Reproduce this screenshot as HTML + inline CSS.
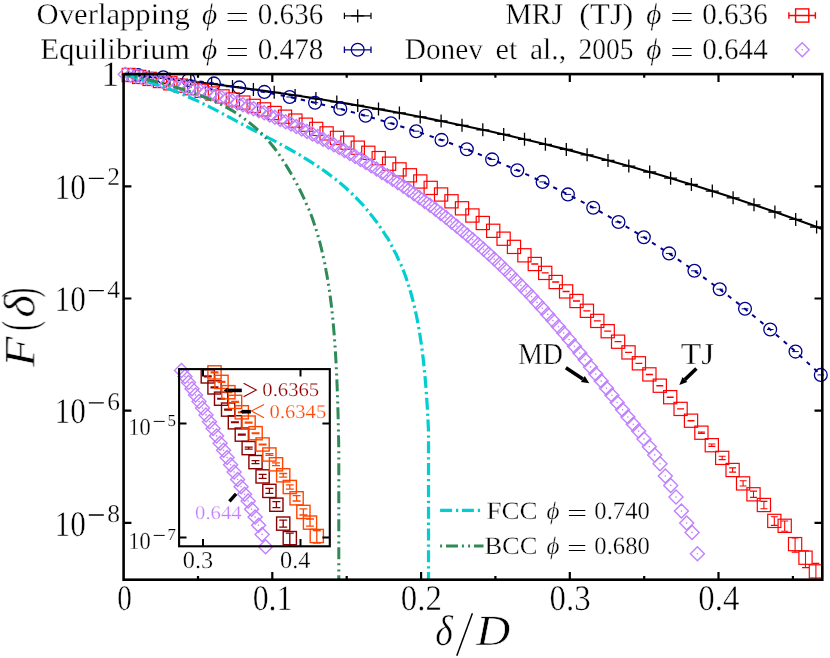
<!DOCTYPE html>
<html><head><meta charset="utf-8"><title>F(delta)</title>
<style>html,body{margin:0;padding:0;background:#fff}svg{display:block}</style></head>
<body><svg width="830" height="658" viewBox="0 0 830 658">
<defs>
<clipPath id="cm"><rect x="123.6" y="74.1" width="698.7" height="505.6"/></clipPath>
<clipPath id="ci"><rect x="179.1" y="369.1" width="150.7" height="177.2"/></clipPath>
<path id="pl" d="M-6.5,0H6.5M0,-6.5V6.5" stroke="#000" stroke-width="1.3" fill="none"/>
<g id="ci0"><circle r="6.4" fill="none" stroke-width="1.3"/><path d="M-3.3,0H3.3" stroke-width="1"/></g>
<rect id="sq" x="-6.6" y="-6.6" width="13.2" height="13.2" fill="none"/>
<g id="dm"><path d="M-7.0,0L0,-7.0L7.0,0L0,7.0Z" fill="none" stroke="#c080ff" stroke-width="1.4"/><circle r="0.8" fill="#c080ff"/></g>
</defs>
<rect x="0" y="0" width="830" height="658" fill="#fff"/>
<g clip-path="url(#cm)">
<path d="M123.60,74.10 135.45,75.30 147.30,76.53 159.14,77.80 170.99,79.11 182.84,80.47 194.69,81.86 206.54,83.29 218.38,84.77 230.23,86.28 242.08,87.84 253.93,89.45 265.78,91.09 277.62,92.79 289.47,94.52 301.32,96.31 313.17,98.14 325.02,100.01 336.86,101.94 348.71,103.91 360.56,105.93 372.41,108.00 384.26,110.13 396.10,112.30 407.95,114.52 419.80,116.80 431.65,119.12 443.50,121.50 455.34,123.94 467.19,126.43 479.04,128.97 490.89,131.57 502.74,134.22 514.58,136.93 526.43,139.70 538.28,142.53 550.13,145.41 561.98,148.36 573.82,151.36 585.67,154.42 597.52,157.55 609.37,160.73 621.22,163.98 633.06,167.29 644.91,170.66 656.76,174.10 668.61,177.60 680.46,181.17 692.30,184.80 704.15,188.50 716.00,192.26 727.85,196.10 739.70,200.00 751.54,203.97 763.39,208.00 775.24,212.11 787.09,216.29 798.94,220.54 810.78,224.86 822.63,229.25" stroke="#000" stroke-width="2.1" fill="none"/>
</g>
<use href="#pl" x="128.2" y="74.6"/>
<use href="#pl" x="149.1" y="76.7"/>
<use href="#pl" x="169.9" y="79"/>
<use href="#pl" x="190.8" y="81.4"/>
<use href="#pl" x="211.6" y="83.9"/>
<use href="#pl" x="232.5" y="86.6"/>
<use href="#pl" x="253.4" y="89.4"/>
<use href="#pl" x="274.2" y="92.3"/>
<use href="#pl" x="295.1" y="95.4"/>
<use href="#pl" x="315.9" y="98.6"/>
<use href="#pl" x="336.8" y="101.9"/>
<use href="#pl" x="357.7" y="105.4"/>
<use href="#pl" x="378.5" y="109.1"/>
<use href="#pl" x="399.4" y="112.9"/>
<use href="#pl" x="420.2" y="116.9"/>
<use href="#pl" x="441.1" y="121"/>
<use href="#pl" x="462" y="125.3"/>
<use href="#pl" x="482.8" y="129.8"/>
<use href="#pl" x="503.7" y="134.4"/>
<use href="#pl" x="524.5" y="139.3"/>
<use href="#pl" x="545.4" y="144.3"/>
<use href="#pl" x="566.3" y="149.4"/>
<use href="#pl" x="587.1" y="154.8"/>
<use href="#pl" x="608" y="160.4"/>
<use href="#pl" x="628.8" y="166.1"/>
<use href="#pl" x="649.7" y="172"/>
<use href="#pl" x="670.6" y="178.2"/>
<use href="#pl" x="691.4" y="184.5"/>
<use href="#pl" x="712.3" y="191.1"/>
<use href="#pl" x="733.1" y="197.8"/>
<use href="#pl" x="754" y="204.8"/>
<use href="#pl" x="774.9" y="212"/>
<use href="#pl" x="795.7" y="219.4"/>
<use href="#pl" x="816.6" y="227"/>
<g clip-path="url(#cm)">
<path d="M138.00,75.04 163.29,77.22 188.58,80.01 213.87,83.41 239.16,87.39 264.45,91.93 289.74,97.04 315.03,102.71 340.32,108.95 365.61,115.77 390.90,123.20 416.19,131.25 441.48,139.95 466.77,149.33 492.06,159.42 517.35,170.26 542.64,181.90 567.93,194.36 593.22,207.70 618.51,221.97 643.80,237.20 669.09,253.45 694.38,270.76 719.67,289.18 744.96,308.76 770.25,329.54 795.54,351.57 820.83,374.88" stroke="#00008b" stroke-width="2" stroke-dasharray="4.3 6" fill="none"/>
</g>
<g stroke="#00008b">
<use href="#ci0" x="138" y="75"/>
<use href="#ci0" x="163.3" y="77.2"/>
<use href="#ci0" x="188.6" y="80"/>
<use href="#ci0" x="213.9" y="83.4"/>
<use href="#ci0" x="239.2" y="87.4"/>
<use href="#ci0" x="264.4" y="91.9"/>
<use href="#ci0" x="289.7" y="97"/>
<use href="#ci0" x="315" y="102.7"/>
<use href="#ci0" x="340.3" y="108.9"/>
<use href="#ci0" x="365.6" y="115.8"/>
<use href="#ci0" x="390.9" y="123.2"/>
<use href="#ci0" x="416.2" y="131.2"/>
<use href="#ci0" x="441.5" y="139.9"/>
<use href="#ci0" x="466.8" y="149.3"/>
<use href="#ci0" x="492.1" y="159.4"/>
<use href="#ci0" x="517.3" y="170.3"/>
<use href="#ci0" x="542.6" y="181.9"/>
<use href="#ci0" x="567.9" y="194.4"/>
<use href="#ci0" x="593.2" y="207.7"/>
<use href="#ci0" x="618.5" y="222"/>
<use href="#ci0" x="643.8" y="237.2"/>
<use href="#ci0" x="669.1" y="253.4"/>
<use href="#ci0" x="694.4" y="270.8"/>
<use href="#ci0" x="719.7" y="289.2"/>
<use href="#ci0" x="745" y="308.8"/>
<use href="#ci0" x="770.2" y="329.5"/>
<use href="#ci0" x="795.5" y="351.6"/>
<use href="#ci0" x="820.8" y="374.9"/>
</g>
<g stroke="#ff0000" stroke-width="1.2">
<use href="#sq" x="128.8" y="75"/>
<use href="#sq" x="139.2" y="76.9"/>
<use href="#sq" x="149.6" y="78.9"/>
<use href="#sq" x="160" y="81"/>
<use href="#sq" x="170.4" y="83.3"/>
<use href="#sq" x="180.9" y="85.7"/>
<use href="#sq" x="191.3" y="88.2"/>
<use href="#sq" x="201.7" y="90.8"/>
<use href="#sq" x="212.1" y="93.5"/>
<use href="#sq" x="222.5" y="96.4"/>
<use href="#sq" x="232.9" y="99.5"/>
<use href="#sq" x="243.3" y="102.6"/>
<use href="#sq" x="253.7" y="105.9"/>
<use href="#sq" x="264.1" y="109.4"/>
<use href="#sq" x="274.6" y="113"/>
<use href="#sq" x="285" y="116.7"/>
<use href="#sq" x="295.4" y="120.6"/>
<use href="#sq" x="305.8" y="124.7"/>
<use href="#sq" x="316.2" y="128.9"/>
<use href="#sq" x="326.6" y="133.4"/>
<use href="#sq" x="337" y="137.9"/>
<use href="#sq" x="347.4" y="142.7"/>
<use href="#sq" x="357.8" y="147.7"/>
<use href="#sq" x="368.3" y="152.8"/>
<use href="#sq" x="378.7" y="158.1"/>
<use href="#sq" x="389.1" y="163.7"/>
<use href="#sq" x="399.5" y="169.4"/>
<use href="#sq" x="409.9" y="175.3"/>
<use href="#sq" x="420.3" y="181.5"/>
<use href="#sq" x="430.7" y="187.9"/>
<use href="#sq" x="441.1" y="194.5"/>
<use href="#sq" x="451.5" y="201.3"/>
<use href="#sq" x="462" y="208.3"/>
<use href="#sq" x="472.4" y="215.5"/>
<use href="#sq" x="482.8" y="223"/>
<use href="#sq" x="493.2" y="230.8"/>
<use href="#sq" x="503.6" y="238.7"/>
<use href="#sq" x="514" y="246.9"/>
<use href="#sq" x="524.4" y="255.3"/>
<use href="#sq" x="534.8" y="264"/>
<use href="#sq" x="545.2" y="272.9"/>
<use href="#sq" x="555.7" y="282"/>
<use href="#sq" x="566.1" y="291.4"/>
<use href="#sq" x="576.5" y="301"/>
<use href="#sq" x="586.9" y="310.8"/>
<use href="#sq" x="597.3" y="320.9"/>
<use href="#sq" x="607.7" y="331.2"/>
<use href="#sq" x="618.1" y="341.7"/>
<use href="#sq" x="628.5" y="352.4"/>
<use href="#sq" x="638.9" y="363.3"/>
<use href="#sq" x="649.4" y="374.4"/>
<use href="#sq" x="659.8" y="385.7"/>
<use href="#sq" x="670.2" y="397.2"/>
<use href="#sq" x="680.6" y="408.9"/>
<use href="#sq" x="691" y="420.7"/>
<use href="#sq" x="701.4" y="432.7"/>
<use href="#sq" x="711.8" y="445.2"/>
<use href="#sq" x="722.2" y="457.9"/>
<use href="#sq" x="732.6" y="470"/>
<use href="#sq" x="743.1" y="483.4"/>
<use href="#sq" x="753.5" y="494.3"/>
<use href="#sq" x="763.9" y="505"/>
<use href="#sq" x="774.3" y="520.9"/>
<use href="#sq" x="784.7" y="525.8"/>
<use href="#sq" x="795.1" y="544.1"/>
<use href="#sq" x="805.5" y="557.7"/>
<use href="#sq" x="815.9" y="571.4"/>
</g>
<g clip-path="url(#cm)"><path d="M531.3,263.8H538.3M531.3,264.1H538.3" stroke="#ff0000" stroke-width="1.1" fill="none"/><path d="M541.7,272.7H548.7M541.7,273H548.7" stroke="#ff0000" stroke-width="1.1" fill="none"/><path d="M552.2,281.9H559.2M552.2,282.2H559.2" stroke="#ff0000" stroke-width="1.1" fill="none"/><path d="M562.6,291.3H569.6M562.6,291.6H569.6" stroke="#ff0000" stroke-width="1.1" fill="none"/><path d="M573,300.9H580M573,301.2H580" stroke="#ff0000" stroke-width="1.1" fill="none"/><path d="M583.4,310.7H590.4M583.4,311H590.4" stroke="#ff0000" stroke-width="1.1" fill="none"/><path d="M593.8,320.7H600.8M593.8,321H600.8" stroke="#ff0000" stroke-width="1.1" fill="none"/><path d="M604.2,331H611.2M604.2,331.3H611.2" stroke="#ff0000" stroke-width="1.1" fill="none"/><path d="M614.6,341.5H621.6M614.6,341.8H621.6" stroke="#ff0000" stroke-width="1.1" fill="none"/><path d="M625,352.2H632M625,352.5H632" stroke="#ff0000" stroke-width="1.1" fill="none"/><path d="M635.4,363.2H642.4M635.4,363.5H642.4" stroke="#ff0000" stroke-width="1.1" fill="none"/><path d="M645.9,374.3H652.9M645.9,374.6H652.9" stroke="#ff0000" stroke-width="1.1" fill="none"/><path d="M656.3,385.6H663.3M656.3,385.9H663.3" stroke="#ff0000" stroke-width="1.1" fill="none"/><path d="M666.7,397.1H673.7M666.7,397.4H673.7" stroke="#ff0000" stroke-width="1.1" fill="none"/><path d="M677.1,408.7H684.1M677.1,409H684.1" stroke="#ff0000" stroke-width="1.1" fill="none"/><path d="M687.5,420.5H694.5M687.5,420.9H694.5" stroke="#ff0000" stroke-width="1.1" fill="none"/><path d="M697.9,432H704.9M697.9,433.4H704.9M701.4,432V433.4" stroke="#ff0000" stroke-width="1.1" fill="none"/><path d="M708.3,444H715.3M708.3,446.4H715.3M711.8,444V446.4" stroke="#ff0000" stroke-width="1.1" fill="none"/><path d="M718.7,456.3H725.7M718.7,459.6H725.7M722.2,456.3V459.6" stroke="#ff0000" stroke-width="1.1" fill="none"/><path d="M729.1,467.9H736.1M729.1,472.1H736.1M732.6,467.9V472.1" stroke="#ff0000" stroke-width="1.1" fill="none"/><path d="M739.6,480.8H746.6M739.6,486H746.6M743.1,480.8V486" stroke="#ff0000" stroke-width="1.1" fill="none"/><path d="M750,491.1H757M750,497.4H757M753.5,491.1V497.4" stroke="#ff0000" stroke-width="1.1" fill="none"/><path d="M760.4,501.4H767.4M760.4,508.8H767.4M763.9,501.4V508.8" stroke="#ff0000" stroke-width="1.1" fill="none"/><path d="M770.8,516.7H777.8M770.8,525.4H777.8M774.3,516.7V525.4" stroke="#ff0000" stroke-width="1.1" fill="none"/><path d="M781.2,521H788.2M781.2,531.2H788.2M784.7,521V531.2" stroke="#ff0000" stroke-width="1.1" fill="none"/><path d="M791.6,538H798.6M791.6,552.1H798.6M795.1,538V552.1" stroke="#ff0000" stroke-width="1.1" fill="none"/><path d="M802,550.7H809M802,567.6H809M805.5,550.7V567.6" stroke="#ff0000" stroke-width="1.1" fill="none"/><path d="M812.4,563.4H819.4M812.4,611.2H819.4M815.9,563.4V611.2" stroke="#ff0000" stroke-width="1.1" fill="none"/></g>
<use href="#dm" x="125.2" y="74.3"/>
<use href="#dm" x="130.5" y="75.2"/>
<use href="#dm" x="135.9" y="76.1"/>
<use href="#dm" x="141.2" y="77.1"/>
<use href="#dm" x="146.6" y="78.1"/>
<use href="#dm" x="151.9" y="79.1"/>
<use href="#dm" x="157.3" y="80.2"/>
<use href="#dm" x="162.6" y="81.4"/>
<use href="#dm" x="168" y="82.6"/>
<use href="#dm" x="173.3" y="83.9"/>
<use href="#dm" x="178.7" y="85.2"/>
<use href="#dm" x="184" y="86.5"/>
<use href="#dm" x="189.4" y="88"/>
<use href="#dm" x="194.7" y="89.4"/>
<use href="#dm" x="200.1" y="90.9"/>
<use href="#dm" x="205.4" y="92.5"/>
<use href="#dm" x="210.8" y="94.1"/>
<use href="#dm" x="216.1" y="95.8"/>
<use href="#dm" x="221.5" y="97.5"/>
<use href="#dm" x="226.8" y="99.2"/>
<use href="#dm" x="232.2" y="101"/>
<use href="#dm" x="237.5" y="102.9"/>
<use href="#dm" x="242.9" y="104.8"/>
<use href="#dm" x="248.2" y="106.7"/>
<use href="#dm" x="253.6" y="108.7"/>
<use href="#dm" x="258.9" y="110.7"/>
<use href="#dm" x="264.2" y="112.8"/>
<use href="#dm" x="269.6" y="115"/>
<use href="#dm" x="274.9" y="117.2"/>
<use href="#dm" x="280.3" y="119.4"/>
<use href="#dm" x="285.6" y="121.7"/>
<use href="#dm" x="291" y="124.1"/>
<use href="#dm" x="296.3" y="126.5"/>
<use href="#dm" x="301.7" y="128.9"/>
<use href="#dm" x="307" y="131.4"/>
<use href="#dm" x="312.4" y="134"/>
<use href="#dm" x="317.7" y="136.6"/>
<use href="#dm" x="323.1" y="139.2"/>
<use href="#dm" x="328.4" y="142"/>
<use href="#dm" x="333.8" y="144.7"/>
<use href="#dm" x="339.1" y="147.6"/>
<use href="#dm" x="344.5" y="150.5"/>
<use href="#dm" x="349.8" y="153.4"/>
<use href="#dm" x="355.2" y="156.4"/>
<use href="#dm" x="360.5" y="159.5"/>
<use href="#dm" x="365.9" y="162.6"/>
<use href="#dm" x="371.2" y="165.8"/>
<use href="#dm" x="376.6" y="169.1"/>
<use href="#dm" x="381.9" y="172.4"/>
<use href="#dm" x="387.3" y="175.8"/>
<use href="#dm" x="392.6" y="179.2"/>
<use href="#dm" x="397.9" y="182.7"/>
<use href="#dm" x="403.3" y="186.3"/>
<use href="#dm" x="408.6" y="190"/>
<use href="#dm" x="414" y="193.7"/>
<use href="#dm" x="419.3" y="197.5"/>
<use href="#dm" x="424.7" y="201.4"/>
<use href="#dm" x="430" y="205.3"/>
<use href="#dm" x="435.4" y="209.3"/>
<use href="#dm" x="440.7" y="213.4"/>
<use href="#dm" x="446.1" y="217.6"/>
<use href="#dm" x="451.4" y="221.9"/>
<use href="#dm" x="456.8" y="226.2"/>
<use href="#dm" x="462.1" y="230.7"/>
<use href="#dm" x="467.5" y="235.2"/>
<use href="#dm" x="472.8" y="239.8"/>
<use href="#dm" x="478.2" y="244.5"/>
<use href="#dm" x="483.5" y="249.2"/>
<use href="#dm" x="488.9" y="254.1"/>
<use href="#dm" x="494.2" y="259.1"/>
<use href="#dm" x="499.6" y="264.1"/>
<use href="#dm" x="504.9" y="269.3"/>
<use href="#dm" x="510.3" y="274.6"/>
<use href="#dm" x="515.6" y="279.9"/>
<use href="#dm" x="521" y="285.4"/>
<use href="#dm" x="526.3" y="291"/>
<use href="#dm" x="531.6" y="296.6"/>
<use href="#dm" x="537" y="302.4"/>
<use href="#dm" x="542.3" y="308.3"/>
<use href="#dm" x="547.7" y="314.4"/>
<use href="#dm" x="553" y="320.5"/>
<use href="#dm" x="558.4" y="326.8"/>
<use href="#dm" x="563.7" y="333.1"/>
<use href="#dm" x="569.1" y="339.5"/>
<use href="#dm" x="574.4" y="346.2"/>
<use href="#dm" x="579.8" y="353"/>
<use href="#dm" x="585.1" y="359.7"/>
<use href="#dm" x="590.5" y="366.9"/>
<use href="#dm" x="595.8" y="374.1"/>
<use href="#dm" x="601.2" y="381.1"/>
<use href="#dm" x="606.5" y="388.3"/>
<use href="#dm" x="611.9" y="395.3"/>
<use href="#dm" x="617.2" y="402.5"/>
<use href="#dm" x="622.6" y="409.8"/>
<use href="#dm" x="627.9" y="417"/>
<use href="#dm" x="633.3" y="424.2"/>
<use href="#dm" x="638.6" y="431.1"/>
<use href="#dm" x="644" y="439"/>
<use href="#dm" x="649.3" y="446.8"/>
<use href="#dm" x="654.7" y="454.9"/>
<use href="#dm" x="660" y="463.8"/>
<use href="#dm" x="665.3" y="476"/>
<use href="#dm" x="670.7" y="485.4"/>
<use href="#dm" x="676" y="497"/>
<use href="#dm" x="681.4" y="511.1"/>
<use href="#dm" x="686.7" y="523.1"/>
<use href="#dm" x="692.1" y="532.4"/>
<use href="#dm" x="697.4" y="553.7"/>
<g clip-path="url(#cm)">
<path d="M123.60,74.10 129.92,75.90 136.24,77.78 142.56,79.75 148.87,81.80 155.19,83.92 161.51,86.14 167.83,88.46 174.15,90.90 180.47,93.45 186.79,96.12 193.10,98.92 199.42,101.83 205.74,104.91 212.06,108.07 218.38,111.40 224.70,114.79 231.02,118.18 237.33,121.62 243.65,124.98 249.97,128.24 256.29,131.51 262.61,134.77 268.93,138.08 275.25,141.36 281.56,144.74 287.88,148.27 294.20,151.78 300.52,155.48 306.84,159.38 313.16,163.44 319.48,167.59 325.79,171.91 332.11,176.60 338.43,181.57 344.75,186.92 351.07,192.89 357.39,199.04 363.71,205.74 370.02,213.48 370.80,214.48 371.58,215.48 372.36,216.35 373.14,217.40 373.92,218.39 374.70,219.42 375.48,220.49 376.26,221.48 377.04,222.54 377.82,223.59 378.60,224.56 379.38,225.86 380.16,227.01 380.94,228.27 381.72,229.36 382.50,230.37 383.28,231.58 384.06,232.82 384.84,234.00 385.62,235.39 386.40,236.56 387.18,237.48 387.96,238.66 388.74,240.02 389.52,241.67 390.30,243.30 391.08,244.55 391.86,246.08 392.64,247.78 393.42,249.04 394.20,250.69 394.98,252.15 395.76,253.45 396.54,255.01 397.32,257.06 398.10,258.56 398.88,260.41 399.66,262.14 400.44,263.77 401.22,265.17 402.00,266.83 402.78,268.90 403.56,271.01 404.16,272.51 405.26,275.51 406.32,278.51 407.34,281.51 408.32,284.51 409.25,287.51 410.15,290.51 411.02,293.51 411.85,296.51 412.64,299.51 413.41,302.51 414.14,305.51 414.84,308.51 415.52,311.51 416.17,314.51 416.79,317.51 417.38,320.51 417.96,323.51 418.51,326.51 419.03,329.51 419.54,332.51 420.03,335.51 420.49,338.51 420.94,341.51 421.37,344.51 421.78,347.51 422.18,350.51 422.56,353.51 422.92,356.51 423.27,359.51 423.61,362.51 423.93,365.51 424.24,368.51 424.54,371.51 424.82,374.51 425.10,377.51 425.36,380.51 425.61,383.51 425.86,386.51 426.09,389.51 426.31,392.51 426.52,395.51 426.73,398.51 426.93,401.51 427.12,404.51 427.30,407.51 427.47,410.51 427.64,413.51 427.80,416.51 427.95,419.51 428.10,422.51 428.24,425.51 428.38,428.51 428.50,431.51 428.50,434.51 428.50,437.51 428.50,440.51 428.50,443.51 428.50,446.51 428.50,449.51 428.50,452.51 428.50,455.51 428.50,458.51 428.50,461.51 428.50,464.51 428.50,467.51 428.50,470.51 428.50,473.51 428.50,476.51 428.50,479.51 428.50,482.51 428.50,485.51 428.50,488.51 428.50,491.51 428.50,494.51 428.50,497.51 428.50,500.51 428.50,503.51 428.50,506.51 428.50,509.51 428.50,512.51 428.50,515.51 428.50,518.51 428.50,521.51 428.50,524.51 428.50,527.51 428.50,530.51 428.50,533.51 428.50,536.51 428.50,539.51 428.50,542.51 428.50,545.51 428.50,548.51 428.50,551.51 428.50,554.51 428.50,557.51 428.50,560.51 428.50,563.51 428.50,566.51 428.50,569.51 428.50,572.51 428.50,575.51 428.50,578.51 428.50,581.51 428.50,584.51" stroke="#00ced1" stroke-width="3.2" stroke-dasharray="12 3.9 2.3 3.6" stroke-dashoffset="18.8" fill="none"/>
<path d="M123.60,74.10 128.04,75.04 132.48,76.01 136.92,77.00 141.36,78.03 145.79,79.09 150.23,80.18 154.67,81.29 159.11,82.45 163.55,83.65 167.99,84.88 172.43,86.16 176.87,87.49 181.31,88.86 185.75,90.30 190.18,91.79 194.62,93.36 199.06,94.98 203.50,96.70 207.94,98.51 212.38,100.42 216.82,102.41 221.26,104.58 225.70,106.88 230.13,109.35 234.57,112.01 239.01,114.94 243.45,118.05 247.89,121.43 252.33,125.03 256.77,128.92 261.21,133.13 265.65,137.75 270.08,142.78 274.52,148.26 278.96,154.33 283.40,160.98 287.84,168.16 292.28,175.67 296.72,183.70 297.27,184.75 297.81,185.77 298.36,186.83 298.91,187.91 299.46,188.99 300.01,190.10 300.55,191.27 301.10,192.37 301.65,193.47 302.20,194.67 302.74,195.82 303.29,196.95 303.84,198.14 304.39,199.31 304.94,200.56 305.48,201.91 306.03,203.21 306.58,204.39 307.13,205.63 307.68,206.72 308.22,208.06 308.77,209.20 309.32,210.52 309.87,211.84 310.41,213.23 310.96,214.49 311.51,216.03 312.06,217.50 312.61,219.08 313.15,220.74 313.70,222.36 314.25,223.91 314.80,225.58 315.35,227.12 315.89,228.81 316.44,230.54 316.99,232.40 317.54,234.04 318.08,236.26 318.63,238.25 319.18,240.11 319.73,242.12 320.28,243.97 320.82,246.40 321.37,248.70 321.92,250.87 322.47,253.24 323.01,255.54 323.56,258.23 324.11,260.32 324.66,262.95 325.21,265.96 325.75,268.77 325.98,270.27 326.55,273.27 327.09,276.27 327.61,279.27 328.11,282.27 328.58,285.27 329.04,288.27 329.48,291.27 329.91,294.27 330.31,297.27 330.70,300.27 331.08,303.27 331.43,306.27 331.78,309.27 332.11,312.27 332.43,315.27 332.73,318.27 333.02,321.27 333.30,324.27 333.57,327.27 333.83,330.27 334.08,333.27 334.32,336.27 334.55,339.27 334.77,342.27 334.98,345.27 335.18,348.27 335.37,351.27 335.56,354.27 335.74,357.27 335.91,360.27 336.07,363.27 336.23,366.27 336.38,369.27 336.53,372.27 336.67,375.27 336.80,378.27 336.93,381.27 337.05,384.27 337.17,387.27 337.28,390.27 337.39,393.27 337.50,396.27 337.60,399.27 337.70,402.27 337.79,405.27 337.88,408.27 337.96,411.27 338.04,414.27 338.12,417.27 338.20,420.27 338.27,423.27 338.34,426.27 338.41,429.27 338.47,432.27 338.53,435.27 338.59,438.27 338.65,441.27 338.70,444.27 338.75,447.27 338.80,450.27 338.80,453.27 338.80,456.27 338.80,459.27 338.80,462.27 338.80,465.27 338.80,468.27 338.80,471.27 338.80,474.27 338.80,477.27 338.80,480.27 338.80,483.27 338.80,486.27 338.80,489.27 338.80,492.27 338.80,495.27 338.80,498.27 338.80,501.27 338.80,504.27 338.80,507.27 338.80,510.27 338.80,513.27 338.80,516.27 338.80,519.27 338.80,522.27 338.80,525.27 338.80,528.27 338.80,531.27 338.80,534.27 338.80,537.27 338.80,540.27 338.80,543.27 338.80,546.27 338.80,549.27 338.80,552.27 338.80,555.27 338.80,558.27 338.80,561.27 338.80,564.27 338.80,567.27 338.80,570.27 338.80,573.27 338.80,576.27 338.80,579.27 338.80,582.27 338.80,585.27" stroke="#2e8b57" stroke-width="3" stroke-dasharray="12 3.9 2 4.2 2 3.9" stroke-dashoffset="4.6" fill="none"/>
</g>
<path d="M440.1,510.4H480.6" stroke="#00ced1" stroke-width="3.2" stroke-dasharray="12 3.9 2.3 3.6" fill="none"/>
<path d="M440.1,545.9H483.5" stroke="#2e8b57" stroke-width="3" stroke-dasharray="2 3.9 12 3.9 2 4.2 2 3.9 12 3.9" fill="none"/>
<path d="M565.9,367.7L582.8,379" stroke="#000" stroke-width="3.6"/><path d="M589.3,383.3L580.9,381.9L584.8,376.1Z" fill="#000"/>
<path d="M696.4,368.5L684.9,379.6" stroke="#000" stroke-width="3.6"/><path d="M679.3,385L682.5,377.1L687.3,382.1Z" fill="#000"/>
<path d="M198,579.7v-3.7M198,74.1v3.7M272.3,579.7v-7.8M272.3,74.1v7.8M346.7,579.7v-3.7M346.7,74.1v3.7M421.1,579.7v-7.8M421.1,74.1v7.8M495.4,579.7v-3.7M495.4,74.1v3.7M569.8,579.7v-7.8M569.8,74.1v7.8M644.2,579.7v-3.7M644.2,74.1v3.7M718.5,579.7v-7.8M718.5,74.1v7.8M792.9,579.7v-3.7M792.9,74.1v3.7M123.6,186.3h7.8M822.3,186.3h-7.8M123.6,298.5h7.8M822.3,298.5h-7.8M123.6,410.7h7.8M822.3,410.7h-7.8M123.6,522.9h7.8M822.3,522.9h-7.8" stroke="#000" stroke-width="2.2" fill="none"/>
<rect x="123.6" y="74.1" width="698.7" height="505.6" fill="none" stroke="#000" stroke-width="2.6"/>
<use href="#dm" x="181.5" y="370.4"/>
<use href="#dm" x="185" y="376.4"/>
<use href="#dm" x="188.5" y="382.5"/>
<use href="#dm" x="192" y="388.8"/>
<use href="#dm" x="195.5" y="395.1"/>
<use href="#dm" x="199" y="401.6"/>
<use href="#dm" x="202.5" y="408.1"/>
<use href="#dm" x="206" y="414.9"/>
<use href="#dm" x="209.5" y="421.8"/>
<use href="#dm" x="213.1" y="428.6"/>
<use href="#dm" x="216.6" y="435.9"/>
<use href="#dm" x="220.1" y="443.2"/>
<use href="#dm" x="223.6" y="450.3"/>
<use href="#dm" x="227.1" y="457.6"/>
<use href="#dm" x="230.6" y="464.8"/>
<use href="#dm" x="234.1" y="472"/>
<use href="#dm" x="237.6" y="479.5"/>
<use href="#dm" x="241.1" y="486.8"/>
<use href="#dm" x="244.6" y="494.2"/>
<use href="#dm" x="248.1" y="501.1"/>
<use href="#dm" x="251.6" y="509.2"/>
<use href="#dm" x="255.1" y="517.1"/>
<use href="#dm" x="258.6" y="525.3"/>
<use href="#dm" x="262.1" y="534.4"/>
<use href="#dm" x="265.6" y="546.8"/>
<g stroke="#8b0000" stroke-width="1.4">
<use href="#sq" x="207.8" y="376.4"/>
<use href="#sq" x="214.5" y="387.4"/>
<use href="#sq" x="221.1" y="398.7"/>
<use href="#sq" x="228.1" y="409.6"/>
<use href="#sq" x="234.9" y="422.3"/>
<use href="#sq" x="241.8" y="434.6"/>
<use href="#sq" x="248.7" y="448.1"/>
<use href="#sq" x="255.5" y="462.1"/>
<use href="#sq" x="262.6" y="476.4"/>
<use href="#sq" x="269.4" y="490.9"/>
<use href="#sq" x="276.4" y="504.7"/>
<use href="#sq" x="283.2" y="523.6"/>
<use href="#sq" x="289.8" y="538.1"/>
</g>
<g clip-path="url(#ci)"><path d="M203.8,376H211.8M203.8,376.8H211.8" stroke="#8b0000" stroke-width="1.3" fill="none"/><path d="M210.5,387H218.5M210.5,387.8H218.5" stroke="#8b0000" stroke-width="1.3" fill="none"/><path d="M217.1,398.3H225.1M217.1,399.1H225.1" stroke="#8b0000" stroke-width="1.3" fill="none"/><path d="M224.1,409.2H232.1M224.1,410H232.1" stroke="#8b0000" stroke-width="1.3" fill="none"/><path d="M230.9,421.9H238.9M230.9,422.7H238.9" stroke="#8b0000" stroke-width="1.3" fill="none"/><path d="M237.8,434.1H245.8M237.8,435.1H245.8" stroke="#8b0000" stroke-width="1.3" fill="none"/><path d="M244.7,447.1H252.7M244.7,449.1H252.7M248.7,447.1V449.1" stroke="#8b0000" stroke-width="1.3" fill="none"/><path d="M251.5,460.6H259.5M251.5,463.6H259.5M255.5,460.6V463.6" stroke="#8b0000" stroke-width="1.3" fill="none"/><path d="M258.6,474.4H266.6M258.6,478.4H266.6M262.6,474.4V478.4" stroke="#8b0000" stroke-width="1.3" fill="none"/><path d="M265.4,488.4H273.4M265.4,493.4H273.4M269.4,488.4V493.4" stroke="#8b0000" stroke-width="1.3" fill="none"/><path d="M272.4,501.7H280.4M272.4,507.7H280.4M276.4,501.7V507.7" stroke="#8b0000" stroke-width="1.3" fill="none"/><path d="M279.2,520.1H287.2M279.2,527.1H287.2M283.2,520.1V527.1" stroke="#8b0000" stroke-width="1.3" fill="none"/><path d="M285.8,533.1H293.8M285.8,568.1H293.8M289.8,533.1V568.1" stroke="#8b0000" stroke-width="1.4" fill="none"/></g>
<g stroke="#ff4500" stroke-width="1.4">
<use href="#sq" x="214.5" y="372.4"/>
<use href="#sq" x="221.5" y="381.9"/>
<use href="#sq" x="228.4" y="392.2"/>
<use href="#sq" x="235.1" y="401.9"/>
<use href="#sq" x="241.8" y="412.3"/>
<use href="#sq" x="248.6" y="422.6"/>
<use href="#sq" x="255.6" y="433.2"/>
<use href="#sq" x="262.6" y="444.5"/>
<use href="#sq" x="269.4" y="454.5"/>
<use href="#sq" x="276" y="464.3"/>
<use href="#sq" x="283.2" y="475.3"/>
<use href="#sq" x="289.8" y="487"/>
<use href="#sq" x="296.6" y="498.3"/>
<use href="#sq" x="303.4" y="511.9"/>
<use href="#sq" x="310" y="522.6"/>
<use href="#sq" x="316.8" y="536"/>
</g>
<g clip-path="url(#ci)"><path d="M210.5,372H218.5M210.5,372.8H218.5" stroke="#ff4500" stroke-width="1.3" fill="none"/><path d="M217.5,381.5H225.5M217.5,382.3H225.5" stroke="#ff4500" stroke-width="1.3" fill="none"/><path d="M224.4,391.8H232.4M224.4,392.6H232.4" stroke="#ff4500" stroke-width="1.3" fill="none"/><path d="M231.1,401.5H239.1M231.1,402.3H239.1" stroke="#ff4500" stroke-width="1.3" fill="none"/><path d="M237.8,411.9H245.8M237.8,412.7H245.8" stroke="#ff4500" stroke-width="1.3" fill="none"/><path d="M244.6,422.2H252.6M244.6,423H252.6" stroke="#ff4500" stroke-width="1.3" fill="none"/><path d="M251.6,432.8H259.6M251.6,433.6H259.6" stroke="#ff4500" stroke-width="1.3" fill="none"/><path d="M258.6,444.1H266.6M258.6,444.9H266.6" stroke="#ff4500" stroke-width="1.3" fill="none"/><path d="M265.4,453.6H273.4M265.4,455.4H273.4M269.4,453.6V455.4" stroke="#ff4500" stroke-width="1.3" fill="none"/><path d="M272,462.9H280M272,465.7H280M276,462.9V465.7" stroke="#ff4500" stroke-width="1.3" fill="none"/><path d="M279.2,473.5H287.2M279.2,477.1H287.2M283.2,473.5V477.1" stroke="#ff4500" stroke-width="1.3" fill="none"/><path d="M285.8,484.8H293.8M285.8,489.2H293.8M289.8,484.8V489.2" stroke="#ff4500" stroke-width="1.3" fill="none"/><path d="M292.6,495.6H300.6M292.6,501H300.6M296.6,495.6V501" stroke="#ff4500" stroke-width="1.3" fill="none"/><path d="M299.4,508.8H307.4M299.4,515H307.4M303.4,508.8V515" stroke="#ff4500" stroke-width="1.3" fill="none"/><path d="M306,519H314M306,526.2H314M310,519V526.2" stroke="#ff4500" stroke-width="1.3" fill="none"/><path d="M312.8,530.5H320.8M312.8,543H320.8M316.8,530.5V543" stroke="#ff4500" stroke-width="1.3" fill="none"/></g>
<path d="M241.8,390.4L227.6,390.4" stroke="#000" stroke-width="3.6"/><path d="M223.6,390.4L227.6,387.8L227.6,393Z" fill="#000"/>
<path d="M250.9,411.7L243,411.7" stroke="#000" stroke-width="3.6"/><path d="M240,411.7L243,409.3L243,414.1Z" fill="#000"/>
<path d="M229.4,501.4L236.1,493.9" stroke="#000" stroke-width="3.4"/>
<path d="M203,546.3v-7.4M203,369.1v7.4M300.5,546.3v-7.4M300.5,369.1v7.4M179.1,423.4h7.4M329.8,423.4h-7.4M179.1,537.4h7.4M329.8,537.4h-7.4" stroke="#000" stroke-width="2" fill="none"/>
<rect x="179.1" y="369.1" width="150.7" height="177.2" fill="none" stroke="#000" stroke-width="2.1"/>
<path d="M344.4,15.9H371M344.4,12.7v6.4M371,12.7v6.4" stroke="#000" stroke-width="1.2" fill="none"/>
<use href="#pl" x="357.7" y="15.9"/>
<path d="M344.4,49.8H371M344.4,46.6v6.4M371,46.6v6.4" stroke="#00008b" stroke-width="1.3" fill="none"/>
<circle cx="357.7" cy="49.8" r="6.4" stroke="#00008b" stroke-width="1.3" fill="none"/>
<path d="M788.9,15.5H815.4M788.9,12.3v6.4M815.4,12.3v6.4" stroke="#ff0000" stroke-width="1.4" fill="none"/>
<use href="#sq" x="802.2" y="15.5" stroke="#ff0000" stroke-width="1.4"/>
<use href="#dm" x="802.2" y="49.8"/>
<g font-family="'Liberation Serif', serif" text-rendering="geometricPrecision" opacity="0.999" stroke="#fff" stroke-width="0.55">
<text x="36.6" y="23.8" font-size="30" textLength="153.3" lengthAdjust="spacingAndGlyphs" stroke-width="0.36">Overlapping</text>
<text x="202.1" y="23.8" font-size="30" font-style="italic" textLength="15.2" lengthAdjust="spacingAndGlyphs" stroke-width="0.36">&#981;</text>
<path d="M227.6,13.5H246.9M227.6,20.5H246.9" stroke="#000" stroke-width="1.2" fill="none"/>
<text x="257.8" y="23.8" font-size="30" textLength="65.4" lengthAdjust="spacingAndGlyphs" stroke-width="0.36">0.636</text>
<text x="40.2" y="59" font-size="30" textLength="149.7" lengthAdjust="spacingAndGlyphs" stroke-width="0.36">Equilibrium</text>
<text x="202.1" y="59" font-size="30" font-style="italic" textLength="15.2" lengthAdjust="spacingAndGlyphs" stroke-width="0.36">&#981;</text>
<path d="M227.6,48.5H246.9M227.6,55.5H246.9" stroke="#000" stroke-width="1.2" fill="none"/>
<text x="257.8" y="59" font-size="30" textLength="65.4" lengthAdjust="spacingAndGlyphs" stroke-width="0.36">0.478</text>
<text x="505.6" y="23.8" font-size="30" textLength="57.3" lengthAdjust="spacingAndGlyphs" stroke-width="0.36">MRJ</text>
<text x="579.2" y="23.8" font-size="30" textLength="54.2" lengthAdjust="spacingAndGlyphs" stroke-width="0.36">(TJ)</text>
<text x="646.3" y="23.8" font-size="30" font-style="italic" textLength="15.2" lengthAdjust="spacingAndGlyphs" stroke-width="0.36">&#981;</text>
<path d="M672.3,13.5H691.6M672.3,20.5H691.6" stroke="#000" stroke-width="1.2" fill="none"/>
<text x="702.2" y="23.8" font-size="30" textLength="65.5" lengthAdjust="spacingAndGlyphs" stroke-width="0.36">0.636</text>
<text x="404.7" y="59" font-size="30" textLength="78.3" lengthAdjust="spacingAndGlyphs" stroke-width="0.36">Donev</text>
<text x="495.6" y="59" font-size="30" textLength="21.9" lengthAdjust="spacingAndGlyphs" stroke-width="0.36">et</text>
<text x="530" y="59" font-size="30" textLength="36" lengthAdjust="spacingAndGlyphs" stroke-width="0.36">al.,</text>
<text x="578.6" y="59" font-size="30" textLength="54.8" lengthAdjust="spacingAndGlyphs" stroke-width="0.36">2005</text>
<text x="646.3" y="59" font-size="30" font-style="italic" textLength="15.2" lengthAdjust="spacingAndGlyphs" stroke-width="0.36">&#981;</text>
<path d="M672.3,48.5H691.6M672.3,55.5H691.6" stroke="#000" stroke-width="1.2" fill="none"/>
<text x="702.2" y="59" font-size="30" textLength="65.5" lengthAdjust="spacingAndGlyphs" stroke-width="0.36">0.644</text>
<text x="486.4" y="519" font-size="25" textLength="51.1" lengthAdjust="spacingAndGlyphs" stroke-width="0.30">FCC</text>
<text x="546.5" y="519" font-size="25" font-style="italic" textLength="13" lengthAdjust="spacingAndGlyphs" stroke-width="0.30">&#981;</text>
<path d="M568.9,510.5H585.3M568.9,515.5H585.3" stroke="#000" stroke-width="1" fill="none"/>
<text x="594.3" y="519" font-size="25" textLength="55.5" lengthAdjust="spacingAndGlyphs" stroke-width="0.30">0.740</text>
<text x="484.4" y="554.3" font-size="25" textLength="53.1" lengthAdjust="spacingAndGlyphs" stroke-width="0.30">BCC</text>
<text x="546.5" y="554.3" font-size="25" font-style="italic" textLength="13" lengthAdjust="spacingAndGlyphs" stroke-width="0.30">&#981;</text>
<path d="M568.9,545.5H585.3M568.9,550.5H585.3" stroke="#000" stroke-width="1" fill="none"/>
<text x="594.3" y="554.3" font-size="25" textLength="55.5" lengthAdjust="spacingAndGlyphs" stroke-width="0.30">0.680</text>
<text x="517.9" y="363.5" font-size="30.5" textLength="45.1" lengthAdjust="spacingAndGlyphs" stroke-width="0.37">MD</text>
<text x="680.7" y="363.7" font-size="30.5" textLength="33.5" lengthAdjust="spacingAndGlyphs" stroke-width="0.37">TJ</text>
<text x="117.2" y="610.3" font-size="36" textLength="14.6" lengthAdjust="spacingAndGlyphs" stroke-width="0.43">0</text>
<text x="252.7" y="610.3" font-size="36" textLength="39.8" lengthAdjust="spacingAndGlyphs" stroke-width="0.43">0.1</text>
<text x="400.8" y="610.3" font-size="36" textLength="41.1" lengthAdjust="spacingAndGlyphs" stroke-width="0.43">0.2</text>
<text x="549.5" y="610.3" font-size="36" textLength="41.1" lengthAdjust="spacingAndGlyphs" stroke-width="0.43">0.3</text>
<text x="698.3" y="610.3" font-size="36" textLength="41.1" lengthAdjust="spacingAndGlyphs" stroke-width="0.43">0.4</text>
<text x="119.3" y="86.1" font-size="36" text-anchor="end" stroke-width="0.43">1</text>
<text x="54.5" y="198.9" font-size="36" textLength="31.3" lengthAdjust="spacingAndGlyphs" stroke-width="0.43">10</text>
<text x="107.2" y="185.3" font-size="25.5" stroke-width="0.31">2</text>
<text x="54.5" y="311.1" font-size="36" textLength="31.3" lengthAdjust="spacingAndGlyphs" stroke-width="0.43">10</text>
<text x="107.2" y="297.5" font-size="25.5" stroke-width="0.31">4</text>
<text x="54.5" y="423.3" font-size="36" textLength="31.3" lengthAdjust="spacingAndGlyphs" stroke-width="0.43">10</text>
<text x="107.2" y="409.7" font-size="25.5" stroke-width="0.31">6</text>
<text x="54.5" y="535.5" font-size="36" textLength="31.3" lengthAdjust="spacingAndGlyphs" stroke-width="0.43">10</text>
<text x="107.2" y="521.9" font-size="25.5" stroke-width="0.31">8</text>
<path d="M88.8,178.4h15M88.8,290.6h15M88.8,402.8h15M88.8,515h15" stroke="#000" stroke-width="1.3"/>
<text x="435.2" y="645.3" font-size="43" font-style="italic" textLength="17.6" lengthAdjust="spacingAndGlyphs" stroke-width="0.52">&#948;</text>
<path d="M456.8,655.7L472.4,613.3" stroke="#000" stroke-width="1.5"/>
<text x="476.3" y="645.3" font-size="43" font-style="italic" textLength="34" lengthAdjust="spacingAndGlyphs" stroke-width="0.52">D</text>
<g transform="translate(34.3,367) rotate(-90)"><text x="0" y="0" font-size="43" font-style="italic" textLength="30.5" lengthAdjust="spacingAndGlyphs" stroke-width="0.52">F</text><text x="36.3" y="1" font-size="49" textLength="9.8" lengthAdjust="spacingAndGlyphs" stroke-width="0.59">(</text><text x="49.3" y="0" font-size="44" font-style="italic" textLength="22.7" lengthAdjust="spacingAndGlyphs" stroke-width="0.53">&#948;</text><text x="69.6" y="1" font-size="49" textLength="9.8" lengthAdjust="spacingAndGlyphs" stroke-width="0.59">)</text></g>
<text x="128.3" y="435.4" font-size="24.3" textLength="22.4" lengthAdjust="spacingAndGlyphs" stroke-width="0.29">10</text>
<text x="167.4" y="425.8" font-size="17" stroke-width="0.20">5</text>
<text x="128.3" y="549.4" font-size="24.3" textLength="22.4" lengthAdjust="spacingAndGlyphs" stroke-width="0.29">10</text>
<text x="167.4" y="539.8" font-size="17" stroke-width="0.20">7</text>
<path d="M153.7,421.4h11M153.7,535.4h11" stroke="#000" stroke-width="1"/>
<text x="198" y="567.6" font-size="24.3" text-anchor="middle" stroke-width="0.29">0.3</text>
<text x="295.2" y="567.6" font-size="24.3" text-anchor="middle" stroke-width="0.29">0.4</text>
<path d="M243.6,383.3L256.3,390L243.6,396.7" fill="none" stroke="#8b0000" stroke-width="1.1"/>
<text x="262.3" y="396.2" font-size="19.5" textLength="56.9" lengthAdjust="spacingAndGlyphs" fill="#8b0000" stroke-width="0.23">0.6365</text>
<path d="M264,404.4L251.4,411.1L264,417.8" fill="none" stroke="#ff4500" stroke-width="1.1"/>
<text x="269.6" y="418" font-size="19.5" textLength="56.6" lengthAdjust="spacingAndGlyphs" fill="#ff4500" stroke-width="0.23">0.6345</text>
<text x="195.1" y="519.3" font-size="19.5" textLength="46.5" lengthAdjust="spacingAndGlyphs" fill="#c080ff" stroke-width="0.23">0.644</text>
</g>
</svg></body></html>
